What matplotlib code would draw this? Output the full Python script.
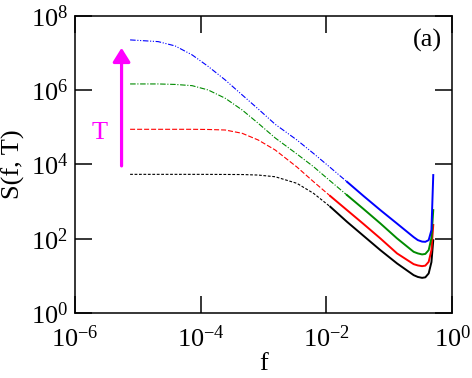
import matplotlib
matplotlib.use("Agg")
from matplotlib import pyplot as plt
from matplotlib.ticker import NullLocator, LogFormatterMathtext
import numpy as np

plt.rcParams['font.family'] = ['Liberation Serif', 'DejaVu Serif']
plt.rcParams['mathtext.fontset'] = 'custom'
plt.rcParams['mathtext.rm'] = 'Liberation Serif'

# log10(f), shared by all curves
log_f = [-5.124, -4.678, -4.408, -4.137, -3.882, -3.611, -3.341, -3.086, -2.815,
         -2.470, -2.205, -1.939, -1.674, -1.409, -1.143, -0.877, -0.613, -0.546,
         -0.479, -0.427, -0.374, -0.330, -0.301]

# log10(S(f, T)), lowest T first
log_s_black = [3.733, 3.733, 3.733, 3.733, 3.732, 3.730, 3.728, 3.714, 3.668,
               3.491, 3.221, 2.860, 2.456, 2.075, 1.693, 1.334, 1.019, 0.970,
               0.946, 0.960, 1.065, 1.369, 1.960]
log_s_red = [4.946, 4.946, 4.946, 4.946, 4.941, 4.927, 4.838, 4.658, 4.388,
             3.930, 3.534, 3.148, 2.771, 2.394, 2.008, 1.604, 1.315, 1.280,
             1.261, 1.275, 1.377, 1.693, 2.370]
log_s_green = [6.167, 6.167, 6.154, 6.121, 6.005, 5.782, 5.466, 5.108, 4.712,
               4.280, 3.938, 3.553, 3.175, 2.798, 2.412, 2.008, 1.647, 1.604,
               1.577, 1.590, 1.693, 2.016, 2.770]
log_s_blue = [7.353, 7.307, 7.191, 6.949, 6.639, 6.275, 5.871, 5.493, 5.080,
              4.658, 4.294, 3.916, 3.534, 3.148, 2.771, 2.407, 2.043, 1.962,
              1.922, 1.916, 1.962, 2.232, 3.714]

colors = ['black', '#ff0000', '#008b00', '#0000ff']
dashes = [(2.5, 1.5), (4.5, 1.8), (5, 1.5, 1, 1.5), (5, 1.5, 1, 1.5, 1, 1.5)]
# where each curve stops looking dashed (index into log_f)
splits = [11, 11, 12, 12]

# the T arrow (log10 values)
arrow_log_f = -5.26
arrow_log_s = (3.96, 7.14)

fig = plt.figure(figsize=(4.72, 3.78), dpi=100)
ax = fig.add_axes([0.159, 0.172, 0.799, 0.786])

f = 10 ** np.array(log_f)
curves = [log_s_black, log_s_red, log_s_green, log_s_blue]
for vals, c, d, k in zip(curves, colors, dashes, splits):
    s = 10 ** np.array(vals)
    ax.plot(f[:k + 1], s[:k + 1], color=c, lw=0.8, linestyle=(0, d))
    ax.plot(f[k:], s[k:], color=c, lw=1.4, solid_joinstyle='round')

ax.annotate('', xy=(10 ** arrow_log_f, 10 ** arrow_log_s[1]),
            xytext=(10 ** arrow_log_f, 10 ** arrow_log_s[0]),
            arrowprops=dict(arrowstyle='-|>,head_length=0.4,head_width=0.25',
                            color='#ff00ff', lw=2.3, mutation_scale=21,
                            shrinkA=0, shrinkB=0))
ax.text(0.066, 0.606, 'T', transform=ax.transAxes, color='#ff00ff',
        fontsize=19, ha='center', va='center')
ax.text(0.973, 0.916, '(a)', transform=ax.transAxes, fontsize=19,
        ha='right', va='center')

ax.set_xscale('log')
ax.set_yscale('log')
ax.set_xlim(1e-6, 1)
ax.set_ylim(1, 1e8)
ax.set_xticks([1e-6, 1e-4, 1e-2, 1])
ax.set_yticks([1, 1e2, 1e4, 1e6, 1e8])
ax.xaxis.set_major_formatter(LogFormatterMathtext())
ax.yaxis.set_major_formatter(LogFormatterMathtext())
ax.xaxis.set_minor_locator(NullLocator())
ax.yaxis.set_minor_locator(NullLocator())
ax.tick_params(which='major', direction='in', length=12, width=1.1,
               top=True, right=True, labelsize=19)
ax.tick_params(axis='x', pad=9)
ax.tick_params(axis='y', pad=5)
for sp in ax.spines.values():
    sp.set_linewidth(1.1)

ax.set_xlabel('f', fontsize=19, labelpad=1)
ax.set_ylabel('S(f, T)', fontsize=19, labelpad=4)

plt.savefig('out.png', dpi=100)
